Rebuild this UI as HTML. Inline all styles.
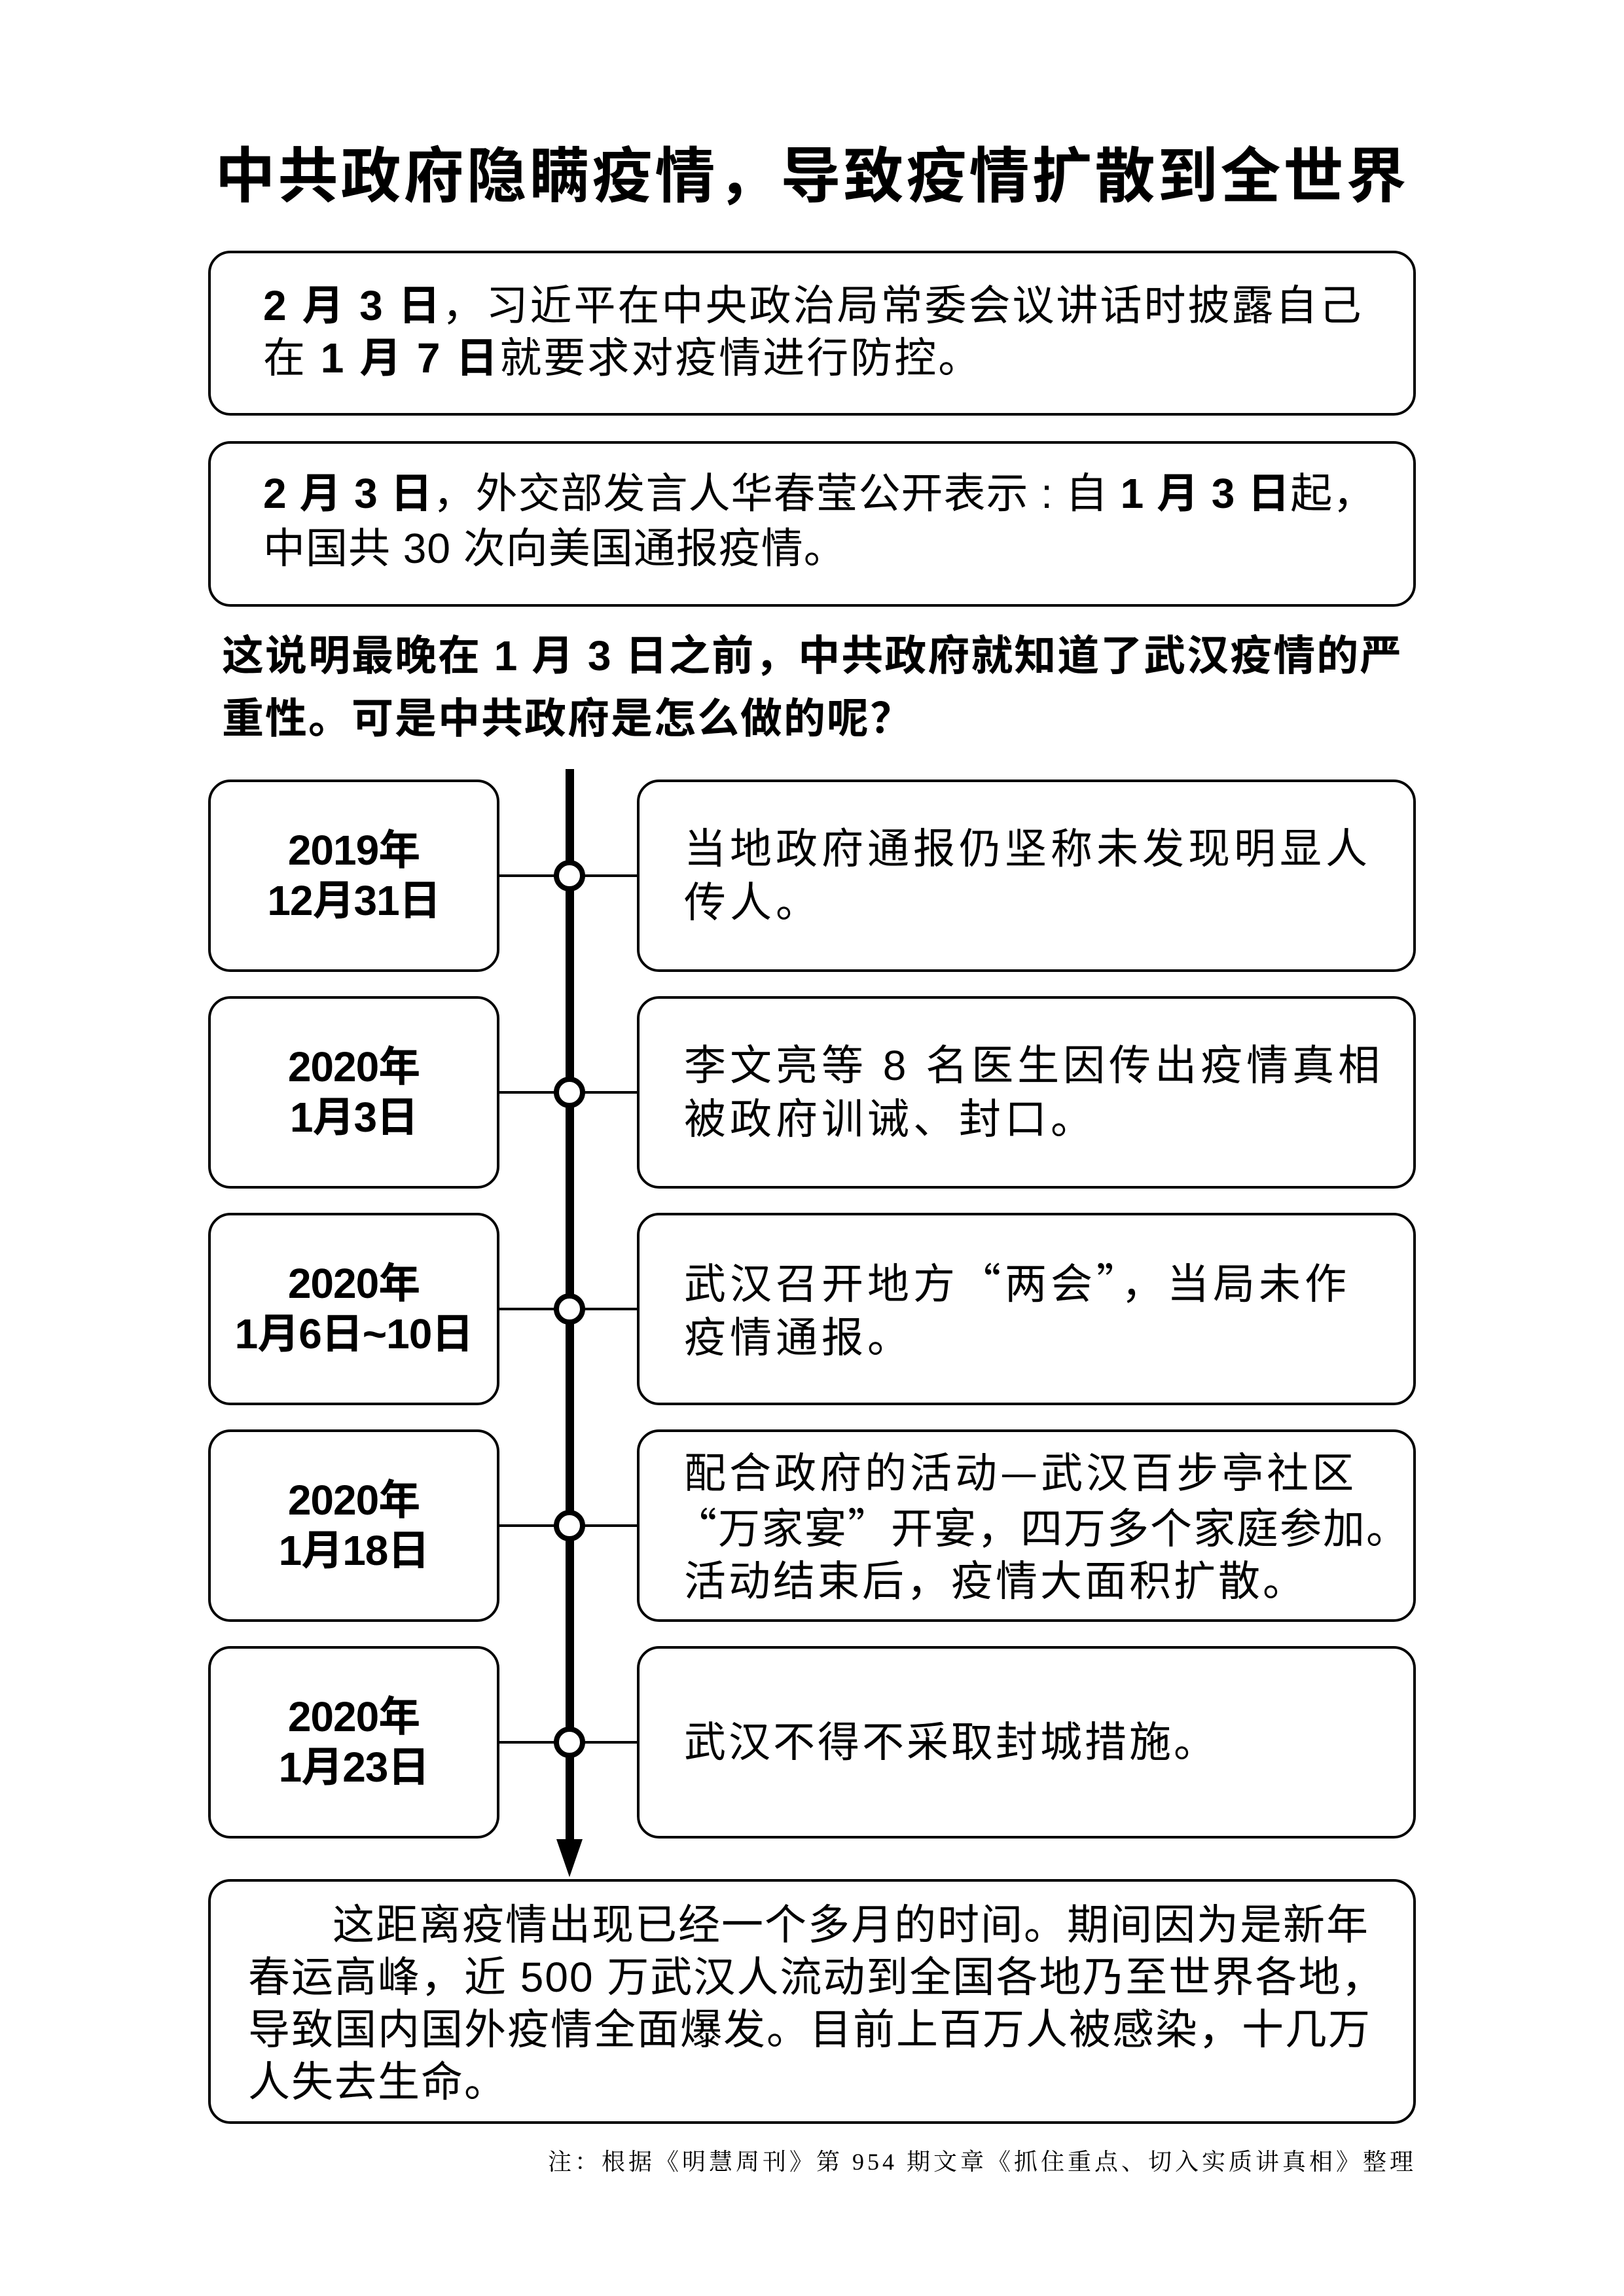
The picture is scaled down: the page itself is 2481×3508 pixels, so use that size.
<!DOCTYPE html>
<html><head><meta charset="utf-8">
<style>
html,body{margin:0;padding:0;background:#fff;}
body{width:2481px;height:3508px;position:relative;overflow:hidden;font-family:"Liberation Sans","Noto Sans CJK SC",sans-serif;color:#000;}
.t{position:absolute;white-space:nowrap;}
.b{font-weight:bold;}
.c{font-family:"Noto Sans CJK SC",sans-serif;}
.date{position:absolute;left:320px;width:441px;height:290px;display:flex;flex-direction:column;justify-content:center;align-items:center;font-weight:bold;font-size:64px;line-height:77px;letter-spacing:-1px;}
.ev{position:absolute;left:1045px;width:1110px;height:290px;display:flex;flex-direction:column;justify-content:center;font-size:64px;line-height:82px;letter-spacing:6px;white-space:nowrap;}
</style></head><body>
<svg width="2481" height="3508" style="position:absolute;left:0;top:0">
<g fill="none" stroke="#000" stroke-width="4">
<rect x="320" y="385" width="1841" height="248" rx="32"/>
<rect x="320" y="676" width="1841" height="249" rx="32"/>
<rect x="320" y="1193" width="441" height="290" rx="32"/>
<rect x="320" y="1524" width="441" height="290" rx="32"/>
<rect x="320" y="1855" width="441" height="290" rx="32"/>
<rect x="320" y="2186" width="441" height="290" rx="32"/>
<rect x="320" y="2517" width="441" height="290" rx="32"/>
<rect x="975" y="1193" width="1186" height="290" rx="32"/>
<rect x="975" y="1524" width="1186" height="290" rx="32"/>
<rect x="975" y="1855" width="1186" height="290" rx="32"/>
<rect x="975" y="2186" width="1186" height="290" rx="32"/>
<rect x="975" y="2517" width="1186" height="290" rx="32"/>
<rect x="320" y="2873" width="1841" height="370" rx="32"/>
<line x1="761" y1="1338" x2="975" y2="1338"/>
<line x1="761" y1="1669" x2="975" y2="1669"/>
<line x1="761" y1="2000" x2="975" y2="2000"/>
<line x1="761" y1="2331" x2="975" y2="2331"/>
<line x1="761" y1="2662" x2="975" y2="2662"/>
</g>
<rect x="864" y="1175" width="13" height="1640" fill="#000"/>
<polygon points="850,2810 890,2810 870,2868" fill="#000"/>
<g fill="#fff" stroke="#000" stroke-width="8">
<circle cx="870" cy="1338" r="20"/>
<circle cx="870" cy="1669" r="20"/>
<circle cx="870" cy="2000" r="20"/>
<circle cx="870" cy="2331" r="20"/>
<circle cx="870" cy="2662" r="20"/>
</g>
</svg>

<div class="t b" style="left:0;width:2481px;text-align:center;top:220px;font-size:92px;line-height:100px;letter-spacing:4px;">中共政府隐瞒疫情，导致疫情扩散到全世界</div>

<div class="t" style="left:402px;top:427px;font-size:64px;line-height:80px;letter-spacing:3px;"><span class="b">2 月 3 日</span>，习近平在中央政治局常委会议讲话时披露自己<br>在 <span class="b">1 月 7 日</span>就要求对疫情进行防控。</div>

<div class="t" style="left:402px;top:712px;font-size:64px;line-height:84px;letter-spacing:1px;"><span class="b">2 月 3 日</span>，外交部发言人华春莹公开表示 : 自 <span class="b">1 月 3 日</span>起，<br>中国共 30 次向美国通报疫情。</div>

<div class="t b" style="left:339px;top:954px;font-size:64px;line-height:96px;letter-spacing:2px;">这说明最晚在 1 月 3 日之前，中共政府就知道了武汉疫情的严<br>重性。可是中共政府是怎么做的呢？</div>

<div class="date" style="top:1193px;"><span>2019年</span><span>12月31日</span></div>
<div class="date" style="top:1524px;"><span>2020年</span><span>1月3日</span></div>
<div class="date" style="top:1855px;"><span>2020年</span><span>1月6日~10日</span></div>
<div class="date" style="top:2186px;"><span>2020年</span><span>1月18日</span></div>
<div class="date" style="top:2517px;"><span>2020年</span><span>1月23日</span></div>

<div class="ev" style="top:1193px;"><span>当地政府通报仍坚称未发现明显人</span><span>传人。</span></div>
<div class="ev" style="top:1524px;"><span>李文亮等 8 名医生因传出疫情真相</span><span>被政府训诫、封口。</span></div>
<div class="ev" style="top:1855px;"><span>武汉召开地方<span class="c">“</span>两会<span class="c">”</span>，当局未作</span><span>疫情通报。</span></div>
<div class="ev" style="top:2186px;line-height:80px;letter-spacing:2px;"><span style="letter-spacing:5px">配合政府的活动<span class="c">—</span>武汉百步亭社区</span><span><span class="c" style="margin-left:-14px">“</span>万家宴<span class="c">”</span>开宴，四万多个家庭参加。</span><span style="letter-spacing:4px">活动结束后，疫情大面积扩散。</span></div>
<div class="ev" style="top:2517px;letter-spacing:4px;"><span>武汉不得不采取封城措施。</span></div>

<div class="t" style="left:379px;top:2901px;font-size:64px;line-height:80px;letter-spacing:2px;"><span style="padding-left:129px">这距离疫情出现已经一个多月的时间。期间因为是新年</span><br>春运高峰，近 500 万武汉人流动到全国各地乃至世界各地，<br>导致国内国外疫情全面爆发。目前上百万人被感染，十几万<br>人失去生命。</div>

<div class="t" style="left:837px;top:3281px;font-family:'Liberation Serif','Noto Serif CJK SC',serif;font-size:36px;line-height:44px;letter-spacing:5px;">注：根据《明慧周刊》第 954 期文章《抓住重点、切入实质讲真相》整理</div>
</body></html>
